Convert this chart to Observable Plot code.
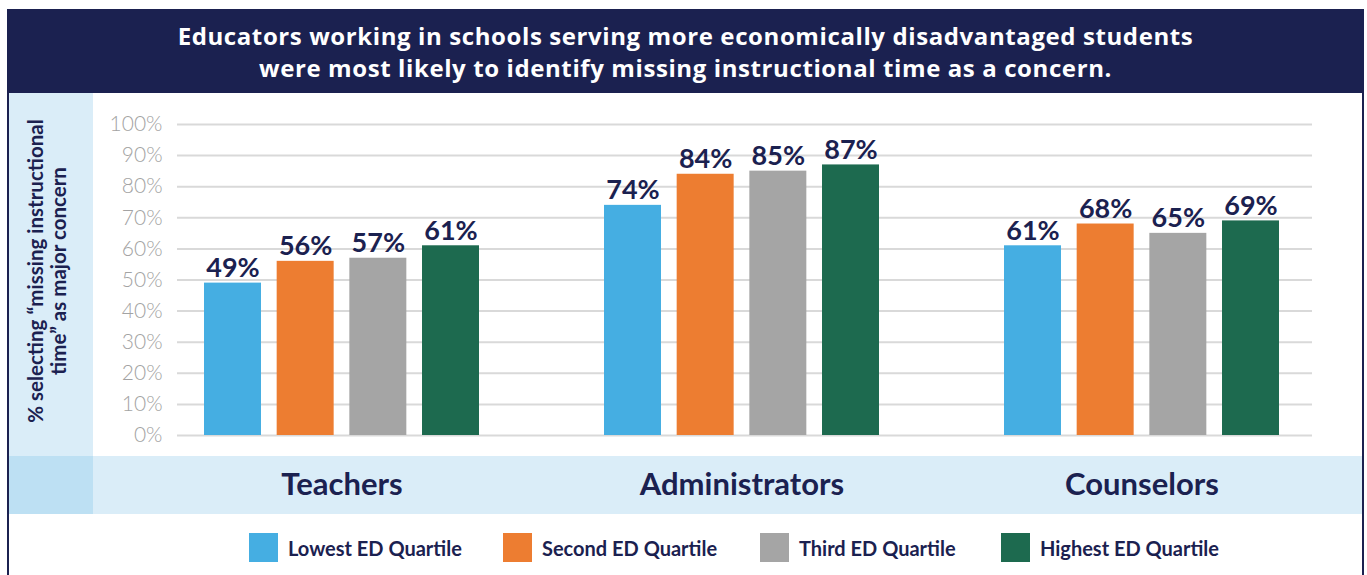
<!DOCTYPE html>
<html><head><meta charset="utf-8">
<script src="https://cdn.jsdelivr.net/npm/d3@7"></script>
<script src="https://cdn.jsdelivr.net/npm/@observablehq/plot@0.6"></script>
<style>
body{margin:0;background:#fff;font-family:Lato,"Open Sans",sans-serif;}
#root{position:relative;width:1367px;height:575px;overflow:hidden;background:#fff;}
.frame{position:absolute;left:7px;top:9px;width:1353px;height:620px;border-left:2px solid #1b2150;border-right:2px solid #1b2150;}
.header{position:absolute;left:7px;top:9px;width:1357px;height:84px;background:#1b2150;color:#fff;font-family:"Open Sans",Lato,sans-serif;font-weight:700;font-size:24px;letter-spacing:0.6px;line-height:32px;text-align:center;box-sizing:border-box;padding-top:11px;white-space:nowrap;}
.leftpanel{position:absolute;left:9px;top:93px;width:84px;height:363px;background:#daedf8;}
.band{position:absolute;left:9px;top:456px;width:1353px;height:58px;background:#daedf8;}
.bandleft{position:absolute;left:9px;top:456px;width:84px;height:58px;background:#bde0f3;}
.ylabel{position:absolute;left:-133px;top:248px;width:360px;height:46px;transform:rotate(-90deg);transform-origin:50% 50%;text-align:center;font-weight:700;font-size:20.5px;line-height:23px;color:#1b2150;white-space:nowrap;}
#chart{position:absolute;left:0;top:93px;}
.legend .item{position:absolute;top:533px;display:flex;align-items:center;height:29px;}
.legend .sw{width:29px;height:29px;margin-right:10px;}
.legend .lab{font-weight:700;font-size:20px;color:#1b2150;white-space:nowrap;}
</style>
</head><body>
<div id="root">
  <div class="frame"></div>
  <div class="header">Educators working in schools serving more economically disadvantaged students<br>were most likely to identify missing instructional time as a concern.</div>
  <div class="leftpanel"></div>
  <div class="band"></div>
  <div class="bandleft"></div>
  <div class="ylabel">% selecting “missing instructional<br>time” as major concern</div>
  <div id="chart"></div>
  <div class="legend" id="legend"></div>
</div>
<script>
const groups = ["Teachers", "Administrators", "Counselors"];
const quartiles = ["Lowest ED Quartile", "Second ED Quartile", "Third ED Quartile", "Highest ED Quartile"];
const lowest = [49, 74, 61];
const second = [56, 84, 68];
const third = [57, 85, 65];
const highest = [61, 87, 69];
const yTicks = [0, 10, 20, 30, 40, 50, 60, 70, 80, 90, 100];
const colors = ["#45aee2", "#ed7d31", "#a5a5a5", "#1d6a4f"];
const navy = "#1b2150";

const series = [lowest, second, third, highest];
const data = [];
series.forEach((vals, k) => groups.forEach((g, i) => data.push({group: g, quartile: quartiles[k], k, value: vals[i]})));

const barStep = 72.67;
const marks = [
  Plot.ruleY(yTicks, {stroke: "#d9d9d9", strokeWidth: 2}),
  Plot.text(yTicks, {y: d => d, text: d => `${d}%`, frameAnchor: "left", textAnchor: "end", dx: -15, fill: "#a3a3a3", fontSize: 21, fontWeight: 300}),
  Plot.text(groups, {x: d => d, text: d => d, frameAnchor: "bottom", dy: 59, fill: navy, fontSize: 31, fontWeight: 700})
];
quartiles.forEach((q, k) => {
  const sub = data.filter(d => d.k === k);
  marks.push(Plot.barY(sub, {x: "group", y: "value", fill: colors[k], insetLeft: k * barStep, insetRight: (3 - k) * barStep}));
  marks.push(Plot.text(sub, {x: "group", y: "value", text: d => `${d.value}%`, dx: (k - 1.5) * barStep, dy: -6, lineAnchor: "bottom", fill: navy, fontSize: 27, fontWeight: 700}));
});

const chart = Plot.plot({
  width: 1367,
  height: 421,
  marginLeft: 177,
  marginRight: 55,
  marginTop: 31,
  marginBottom: 79,
  style: {background: "transparent", fontFamily: "Lato, 'Open Sans', sans-serif", overflow: "visible"},
  x: {domain: groups, range: [204, 1279], paddingInner: 0.3125, paddingOuter: 0, axis: null},
  y: {domain: [0, 100], axis: null},
  marks
});
document.getElementById("chart").appendChild(chart);

const legend = document.getElementById("legend");
const legendX = [249, 503, 760, 1001];
quartiles.forEach((q, k) => {
  const item = document.createElement("div");
  item.className = "item";
  item.style.left = legendX[k] + "px";
  item.innerHTML = `<div class="sw" style="background:${colors[k]}"></div><div class="lab">${q}</div>`;
  legend.appendChild(item);
});
</script>
</body></html>
